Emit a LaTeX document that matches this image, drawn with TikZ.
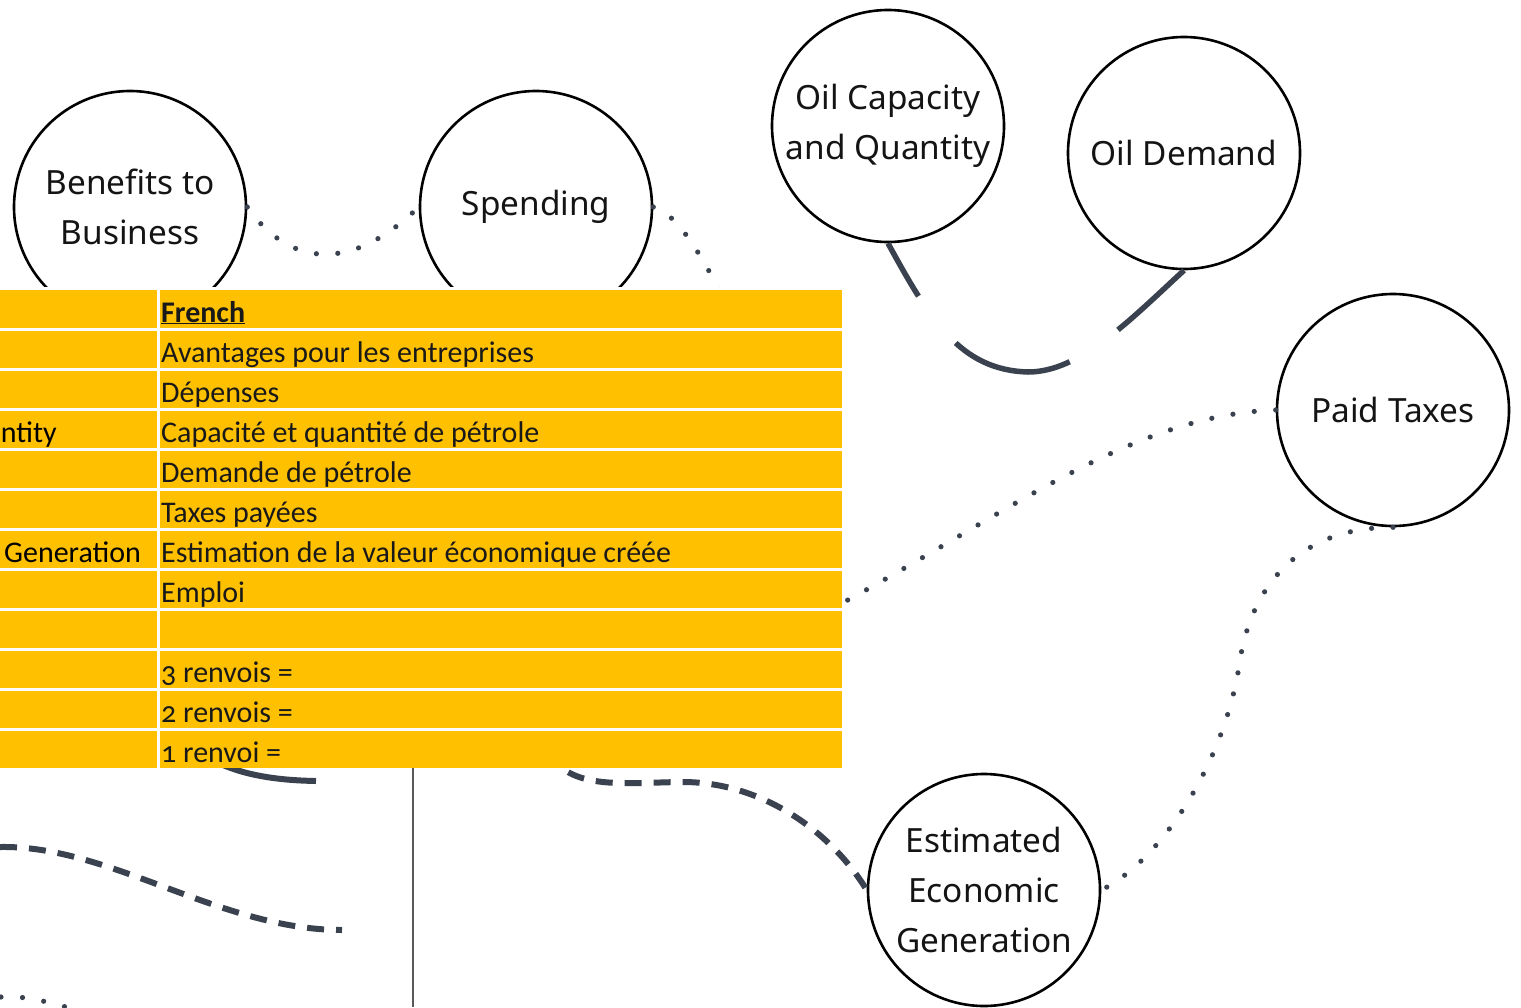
\documentclass[tikz,border=0pt]{standalone}
\usepackage{fontspec}
\setmainfont{Carlito}
\newfontfamily\circfont{Noto Sans}
\newfontfamily\tabfont[Numbers=OldStyle]{Carlito}
\definecolor{conn}{HTML}{3A4250}
\definecolor{amber}{HTML}{FFC000}
\begin{document}
\begin{tikzpicture}[x=1bp,y=-1bp,
  bubble/.style={circle, draw=black, line width=2.6bp, minimum size=232bp, inner sep=0pt, align=center, text=black!92, font=\circfont\fontsize{33.5}{50}\selectfont},
  dotline/.style={draw=conn, line width=5.2bp, line cap=round, dash pattern=on 0bp off 21.5bp},
  dashline/.style={draw=conn, line width=6bp, dash pattern=on 17bp off 12bp},
  solidline/.style={draw=conn, line width=5.5bp},
  cell/.style={anchor=base west, inner sep=0pt, font=\tabfont\fontsize{30.1}{36}\selectfont, text=black!90},
  gridline/.style={draw=white, line width=3bp}
]
\useasboundingbox (0,0) rectangle (1521,1007);
\clip (0,0) rectangle (1521,1007);

% bubbles
\node[bubble] (ben) at (130,207) {Benefits to\\Business};
\node[bubble] (spe) at (536,207) {Spending};
\node[bubble] (oc) at (888,126) {Oil Capacity\\and Quantity};
\node[bubble] (od) at (1184,153) {Oil Demand};
\node[bubble] (tax) at (1393,410) {Paid Taxes};
\node[bubble] (est) at (984,890) {Estimated\\Economic\\Generation};

% hidden / free ends
\coordinate (h1) at (745,340);
\coordinate (h2) at (800,625);
\coordinate (h3) at (548,752);
\coordinate (h4) at (190,745);
\coordinate (e4) at (316,781);
\coordinate (s1) at (0,847);
\coordinate (s2) at (342,930);
\coordinate (v1) at (413,768);
\coordinate (v2) at (413,1007);
\coordinate (b1) at (1,997);
\coordinate (b2) at (95,1015);

% connectors
\draw[dotline] (ben.east) .. controls (290,268) and (352,272) .. (spe.west);
\draw[dotline] (spe.east) .. controls (680,215) and (705,260) .. (h1);
\draw[dotline] (tax.west) .. controls (1120,415) and (980,535) .. (h2);
\draw[dotline] (tax.south) .. controls (1300,527) and (1252,585) .. (1240,660) .. controls (1226,760) and (1162,860) .. (est.east);
\draw[solidline, dash pattern=on 61bp off 60bp on 123bp off 58bp on 200bp off 10bp] (oc.south) .. controls (930,320) and (960,370) .. (1028,372) .. controls (1080,372) and (1130,320) .. (od.south);
\draw[dashline] (h3) .. controls (570,790) and (620,783) .. (680,782) .. controls (760,781) and (830,830) .. (est.west);
\draw[draw=conn, line width=6bp] (h4) .. controls (220,770) and (260,780) .. (e4);
\draw[dashline] (s1) .. controls (110,845) and (220,930) .. (s2);
\draw[draw=black!65, line width=1.8bp] (v1) -- (v2);
\draw[dotline] (b1) .. controls (30,997) .. (b2);

% table
\fill[amber] (0,289) rectangle (842,768);
\draw[gridline] (0,288.5) -- (842,288.5);
\foreach \k in {1,...,11} {\draw[gridline] (0,289+40*\k) -- (842,289+40*\k);}
\draw[gridline] (158,289) -- (158,768);

\node[cell] (fr0) at (161,322) {\textbf{\underline{French}}};
\node[cell] (fr1) at (161,362) {Avantages pour les entreprises};
\node[cell] (fr2) at (161,402) {Dépenses};
\node[cell] (fr3) at (161,442) {Capacité et quantité de pétrole};
\node[cell] (fr4) at (161,482) {Demande de pétrole};
\node[cell] (fr5) at (161,522) {Taxes payées};
\node[cell] (fr6) at (161,562) {Estimation de la valeur économique créée};
\node[cell] (fr7) at (161,602) {Emploi};
\node[cell] (fr9) at (161,682) {3 renvois =};
\node[cell] (fr10) at (161,722) {2 renvois =};
\node[cell] (fr11) at (161,762) {1 renvoi =};
\node[cell, anchor=base east, text=black] (en3) at (57,442) {ntity};
\node[cell, text=black] (en6) at (4,562) {Generation};
\end{tikzpicture}
\end{document}
